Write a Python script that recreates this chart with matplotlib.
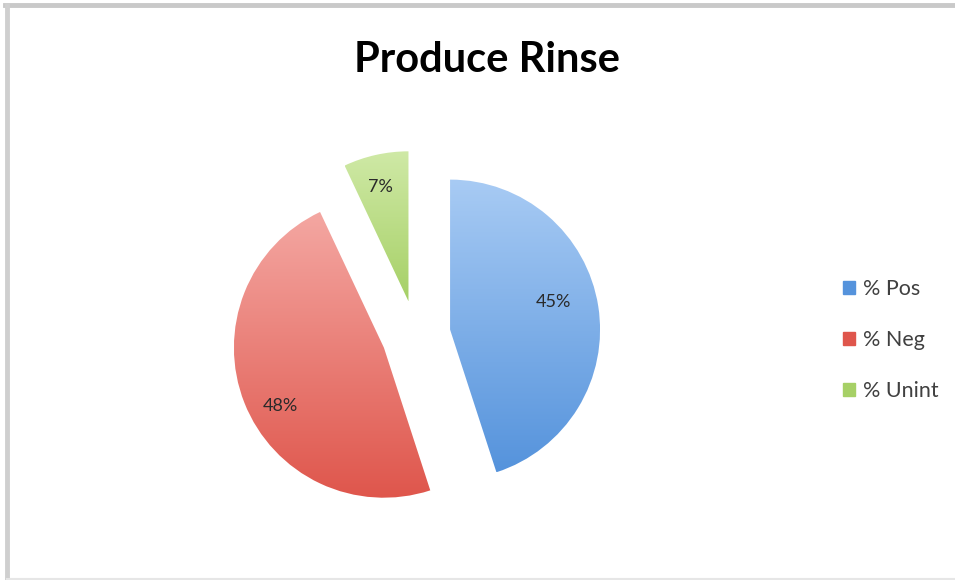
import matplotlib.pyplot as plt
from matplotlib.lines import Line2D
import numpy as np

labels = ['% Pos', '% Neg', '% Unint']
values = [45, 48, 7]
top_colors = ['#a8cbf4', '#f4a7a2', '#cfe9a6']
bottom_colors = ['#5593dc', '#df564c', '#a6d066']
explode = [0.23, 0.23, 0.23]

W, H = 955, 580
fig = plt.figure(figsize=(W / 100, H / 100), dpi=100)
fig.patch.set_facecolor('white')

# grey frame (top and left edges, faint bottom)
fig.add_artist(Line2D([5 / W, 1], [1 - 5 / H, 1 - 5 / H], color='#c9c9c9', lw=3.5))
fig.add_artist(Line2D([7 / W, 7 / W], [0, 1 - 5 / H], color='#cfcfcf', lw=3.5))
fig.add_artist(Line2D([7 / W, 1], [1 / H, 1 / H], color='#e6e6e6', lw=1.5))

# pie centre at (416, 335) px, radius 150 px
cx, cy, r = 416, 335, 150
half = 200
ax = fig.add_axes([(cx - half) / W, (H - cy - half) / H, 2 * half / W, 2 * half / H])

wedges, texts, autotexts = ax.pie(
    values, colors=top_colors, explode=explode, startangle=90, counterclock=False,
    autopct='%1.0f%%', pctdistance=0.75,
    textprops=dict(fontsize=13, color='#2a2a2a', family=['Lato', 'DejaVu Sans']))

lim = half / r
ax.set_aspect('equal')
ax.axis('off')

# vertical gradient inside every slice
for w, c1, c2 in zip(wedges, top_colors, bottom_colors):
    c1 = np.array(plt.matplotlib.colors.to_rgb(c1))
    c2 = np.array(plt.matplotlib.colors.to_rgb(c2))
    t = np.linspace(0, 1, 256)[:, None]
    grad = (c1[None, :] * (1 - t) + c2[None, :] * t)[:, None, :]
    grad = np.repeat(grad, 2, axis=1)
    ext = w.get_path().get_extents(w.get_transform() + ax.transData.inverted())
    im = ax.imshow(grad, extent=[ext.x0, ext.x1, ext.y0, ext.y1], origin='upper',
                   aspect='auto', zorder=w.get_zorder())
    im.set_clip_path(w)
    w.set_facecolor('none')
    w.set_edgecolor('none')

# nudge labels the way the original places them
nudges = [(-0.05, 0.07), (0.01, -0.11), (-0.02, 0.03)]
for t, (dx, dy) in zip(autotexts, nudges):
    x, y = t.get_position()
    t.set_position((x + dx, y + dy))
    t.set_zorder(5)

ax.set_xlim(-lim, lim)
ax.set_ylim(-lim, lim)

fig.text(487 / W, 1 - 60 / H, 'Produce Rinse', ha='center', va='center',
         fontsize=30, fontweight='bold', family=['Lato', 'DejaVu Sans'], color='black')

handles = [plt.Rectangle((0, 0), 1, 1, color=c) for c in bottom_colors]
fig.legend(handles, labels, loc='center left', bbox_to_anchor=(824 / W, 1 - 340 / H),
           frameon=False, handlelength=0.55, handleheight=0.55, handletextpad=0.35,
           labelspacing=1.45, prop=dict(family=['Lato', 'DejaVu Sans'], size=15.5),
           labelcolor='#404040')

plt.savefig('out.png', dpi=100)
